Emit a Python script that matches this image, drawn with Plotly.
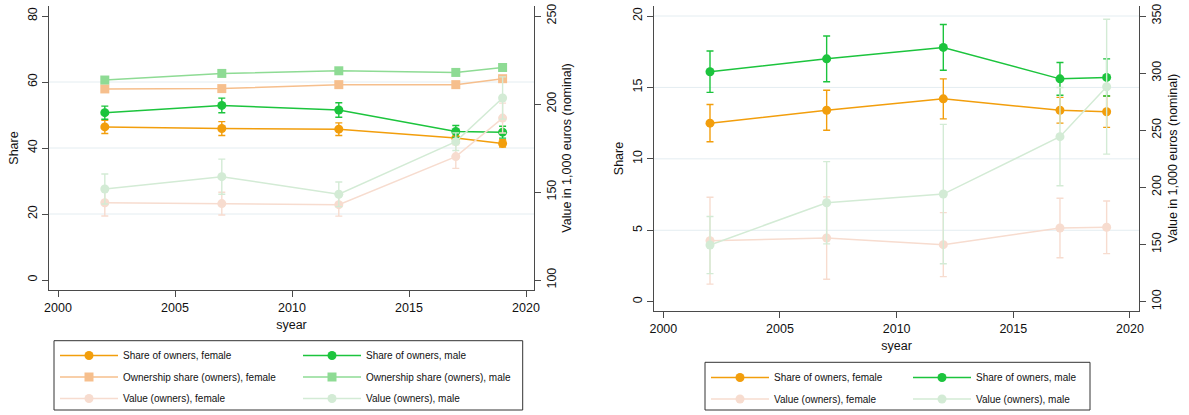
import plotly.graph_objects as go

W, H = 1189, 415

years = [2002, 2007, 2012, 2017, 2019]

# Left panel
share_f = [46.4, 45.9, 45.7, 43.0, 41.4]
share_f_err = [2.0, 2.1, 1.9, 1.5, 1.1]
share_m = [50.7, 52.9, 51.5, 45.0, 44.8]
share_m_err = [2.0, 2.2, 2.2, 1.8, 1.8]
own_f = [57.9, 58.0, 59.2, 59.2, 61.0]
own_f_err = [0.8, 0.9, 0.8, 0.8, 0.9]
own_m = [60.6, 62.6, 63.4, 62.9, 64.4]
own_m_err = [1.0, 0.9, 0.9, 0.8, 0.9]
val_f = [143.9, 143.4, 142.8, 170.1, 192.0]
val_f_err = [7.5, 6.5, 6.5, 6.7, 8.5]
val_m = [151.7, 158.7, 148.7, 178.6, 203.4]
val_m_err = [8.5, 10.0, 7.0, 5.0, 12.0]

# Right panel
share_f2 = [12.5, 13.4, 14.2, 13.4, 13.3]
share_f2_err = [1.3, 1.4, 1.4, 0.9, 1.1]
share_m2 = [16.1, 17.0, 17.8, 15.6, 15.7]
share_m2_err = [1.45, 1.6, 1.6, 1.15, 1.3]
val_f2 = [153.4, 155.7, 149.9, 164.5, 165.1]
val_f2_err = [38, 36, 28, 26, 23]
val_m2 = [149.6, 186.6, 194.2, 244.4, 288.1]
val_m2_err = [25, 36, 61, 43, 59]

x_ticks = [2000, 2005, 2010, 2015, 2020]
left_y_ticks = [0, 20, 40, 60, 80]
left_y2_ticks = [100, 150, 200, 250]
right_y_ticks = [0, 5, 10, 15, 20]
right_y2_ticks = [100, 150, 200, 250, 300, 350]
left_grid = [20, 40, 60]
right_grid = [5, 10, 15, 20]

C_SF = '#F29E0C'
C_SM = '#1CC43D'
C_OF = '#F6BF8D'
C_OM = '#8EDB94'
C_VF = '#F7DCCF'
C_VM = '#D3EBD5'
AX = '#4a4a4a'
GRID = '#E4EDF1'
FONT = 'Liberation Sans, Arial, sans-serif'

fig = go.Figure()


def add(name, y, err, color, symbol, xa, ya, legend, rank):
    fig.add_trace(go.Scatter(
        x=years, y=y, name=name, mode='lines+markers',
        line=dict(color=color, width=1.5),
        marker=dict(color=color, size=9, symbol=symbol),
        error_y=dict(type='data', array=err, color=color, thickness=1.4, width=3.5),
        xaxis=xa, yaxis=ya, legend=legend, legendgroup=name + xa, legendrank=rank,
    ))


# left panel
add('Share of owners, female', share_f, share_f_err, C_SF, 'circle', 'x', 'y', 'legend', 1)
add('Ownership share (owners), female', own_f, own_f_err, C_OF, 'square', 'x', 'y', 'legend', 2)
add('Value (owners), female', val_f, val_f_err, C_VF, 'circle', 'x', 'y2', 'legend', 3)
add('Share of owners, male', share_m, share_m_err, C_SM, 'circle', 'x', 'y', 'legend2', 1)
add('Ownership share (owners), male', own_m, own_m_err, C_OM, 'square', 'x', 'y', 'legend2', 2)
add('Value (owners), male', val_m, val_m_err, C_VM, 'circle', 'x', 'y2', 'legend2', 3)
# right panel
add('Share of owners, female', share_f2, share_f2_err, C_SF, 'circle', 'x2', 'y3', 'legend3', 1)
add('Value (owners), female', val_f2, val_f2_err, C_VF, 'circle', 'x2', 'y4', 'legend3', 2)
add('Share of owners, male', share_m2, share_m2_err, C_SM, 'circle', 'x2', 'y3', 'legend4', 1)
add('Value (owners), male', val_m2, val_m2_err, C_VM, 'circle', 'x2', 'y4', 'legend4', 2)


def px_x(p):
    return p / W


def px_y(p):
    return 1 - p / H


axis_common = dict(showgrid=False, zeroline=False, showline=True, linecolor=AX, linewidth=1.2,
                   ticks='outside', ticklen=6, tickcolor=AX, tickwidth=1.2, automargin=False,
                   tickfont=dict(family=FONT, size=12.5, color='#111'),
                   title_font=dict(family=FONT, size=12.5, color='#111'))

fig.update_layout(
    width=W, height=H, margin=dict(l=0, r=0, t=0, b=0, autoexpand=False),
    paper_bgcolor='white', plot_bgcolor='white',
    font=dict(family=FONT, color='#111'),
    xaxis=dict(**axis_common, domain=[px_x(49), px_x(534)], anchor='y',
               range=[1999.615, 2020.342], tickvals=x_ticks, title=dict(text='syear', standoff=6)),
    yaxis=dict(**axis_common, domain=[px_y(290), px_y(6)], anchor='x',
               range=[-3.03, 83.03], tickvals=left_y_ticks, tickangle=-90,
               title=dict(text='Share', standoff=4)),
    yaxis2=dict(**axis_common, overlaying='y', side='right', anchor='x',
                range=[94.32, 255.68], tickvals=left_y2_ticks, tickangle=-90,
                title=dict(text='Value in 1,000 euros (nominal)', standoff=4)),
    xaxis2=dict(**axis_common, domain=[px_x(654), px_x(1139.3)], anchor='y3',
                range=[1999.60, 2020.40], tickvals=x_ticks, title=dict(text='syear', standoff=6)),
    yaxis3=dict(**axis_common, domain=[px_y(311), px_y(6)], anchor='x2',
                range=[-0.651, 20.70], tickvals=right_y_ticks, tickangle=-90,
                title=dict(text='Share', standoff=4)),
    yaxis4=dict(**axis_common, overlaying='y3', side='right', anchor='x2',
                range=[91.86, 358.75], tickvals=right_y2_ticks, tickangle=-90,
                title=dict(text='Value in 1,000 euros (nominal)', standoff=4)),
    showlegend=True,
)

leg_common = dict(orientation='v', xanchor='left', yanchor='top', bgcolor='rgba(0,0,0,0)',
                  borderwidth=0, itemwidth=58, tracegroupgap=2.5,
                  font=dict(family=FONT, size=10, color='#111'), itemclick=False, itemdoubleclick=False)
fig.update_layout(
    legend=dict(**leg_common, x=px_x(55), y=px_y(341)),
    legend2=dict(**leg_common, x=px_x(298), y=px_y(341)),
    legend3=dict(**leg_common, x=px_x(706), y=px_y(363)),
    legend4=dict(**leg_common, x=px_x(908), y=px_y(363)),
)

shapes = []
for g in left_grid:
    shapes.append(dict(type='line', xref='x domain', yref='y', x0=0, x1=1, y0=g, y1=g,
                       line=dict(color=GRID, width=1), layer='below'))
for g in right_grid:
    shapes.append(dict(type='line', xref='x2 domain', yref='y3', x0=0, x1=1, y0=g, y1=g,
                       line=dict(color=GRID, width=1), layer='below'))
# legend frames
shapes.append(dict(type='rect', xref='paper', yref='paper', x0=px_x(54), x1=px_x(522.7),
                   y0=px_y(410), y1=px_y(340.7), line=dict(color='#333', width=1)))
shapes.append(dict(type='rect', xref='paper', yref='paper', x0=px_x(705), x1=px_x(1090),
                   y0=px_y(410), y1=px_y(362.3), line=dict(color='#333', width=1)))
fig.update_layout(shapes=shapes)

fig.write_html('out.html', config={'displayModeBar': False},
               post_script="document.body.style.margin='0';document.body.style.overflow='hidden';")
